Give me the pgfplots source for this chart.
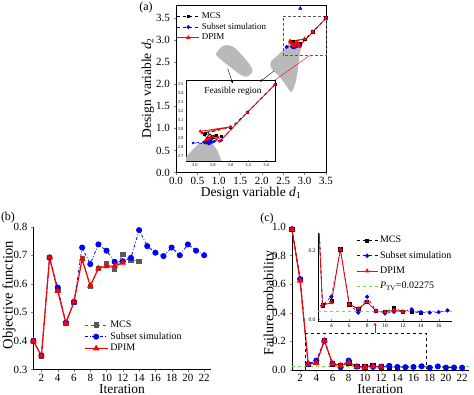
\documentclass[border=0pt]{standalone}
\usepackage{pgfplots}
\pgfplotsset{compat=1.18}
\usepackage{fontspec}
\setmainfont{Liberation Serif}
\usetikzlibrary{arrows.meta}
\definecolor{mcsgray}{RGB}{90,90,90}
\definecolor{ptvgreen}{RGB}{110,220,70}
\definecolor{blobgray}{RGB}{185,185,185}
\newcommand{\fs}[1]{\fontsize{#1}{#1}\selectfont}

\pgfplotstableread{
x y
3.5 3.5
3.19 3.19
3.0 3.02
2.72 2.96
2.9 2.92
2.7 2.95
2.78 2.9
2.84 2.93
2.75 2.88
2.8 2.92
2.74 2.9
2.79 2.91
2.76 2.89
2.77 2.9
}\aMCS
\pgfplotstableread{
x y
3.5 3.5
3.19 3.19
2.88 2.87
2.72 2.86
2.9 2.88
2.58 2.85
2.76 2.84
2.82 2.87
2.7 2.86
2.78 2.88
2.74 2.85
2.8 2.86
2.73 2.87
2.77 2.85
2.75 2.87
2.79 2.86
2.72 2.85
2.76 2.87
2.74 2.86
2.77 2.86
2.75 2.85
2.76 2.86
}\aSS
\pgfplotstableread{
x y
3.5 3.5
3.19 3.19
2.88 2.87
2.66 2.98
3.0 3.03
2.68 2.96
2.74 2.9
2.86 2.91
2.72 2.88
2.8 2.92
2.75 2.89
2.77 2.9
}\aDP

\pgfplotstableread{
x y
1 0.40
2 0.348
3 0.692
4 0.58
5 0.462
6 0.535
7 0.69
8 0.592
9 0.654
10 0.671
11 0.650
12 0.704
13 0.683
14 0.679
}\bMCS
\pgfplotstableread{
x y
1 0.40
2 0.349
3 0.692
4 0.587
5 0.464
6 0.537
7 0.727
8 0.669
9 0.738
10 0.716
11 0.677
12 0.679
13 0.691
14 0.788
15 0.732
16 0.709
17 0.697
18 0.727
19 0.700
20 0.738
21 0.716
22 0.700
}\bSS
\pgfplotstableread{
x y
1 0.40
2 0.348
3 0.692
4 0.575
5 0.463
6 0.537
7 0.686
8 0.593
9 0.654
10 0.662
11 0.662
12 0.674
}\bDP

\pgfplotstableread{
x y
1 0.985
2 0.635
3 0.041
4 0.054
5 0.205
6 0.044
7 0.031
8 0.051
9 0.024
10 0.021
11 0.034
12 0.022
13 0.021
14 0.020
}\cMCS
\pgfplotstableread{
x y
1 0.985
2 0.635
3 0.041
4 0.066
5 0.205
6 0.044
7 0.0195
8 0.066
9 0.024
10 0.017
11 0.022
12 0.022
13 0.029
14 0.021
15 0.0195
16 0.021
17 0.026
18 0.016
19 0.025
20 0.017
21 0.017
22 0.016
}\cSS
\pgfplotstableread{
x y
1 0.985
2 0.625
3 0.041
4 0.049
5 0.205
6 0.044
7 0.031
8 0.051
9 0.024
10 0.021
11 0.027
12 0.022
}\cDP

\begin{document}
\begin{tikzpicture}[x=1pt,y=1pt]
\useasboundingbox (0,0) rectangle (474,395);

% ---------------- Panel (a) ----------------
\begin{axis}[
  at={(176pt,222.5pt)}, anchor=south west,
  width=150pt, height=167.5pt, scale only axis,
  xmin=0, xmax=3.5, ymin=0, ymax=3.8,
  xtick={0,0.5,...,3.5}, ytick={0,0.5,...,3.5},
  tick align=outside, tick pos=left, major tick length=2.5pt,
  tick label style={font=\fs{11}},
  xticklabel style={yshift=1pt},
  xlabel={Design variable \textit{d}\textsubscript{1}},
  ylabel={Design variable \textit{d}\textsubscript{2}},
  every axis x label/.style={at={(axis description cs:0.5,-0.126)}, anchor=center, font=\fs{13.5}},
  every axis y label/.style={at={(axis description cs:-0.187,0.504)}, rotate=90, anchor=center, font=\fs{13.5}},
  clip=false,
  legend style={at={(0.005,0.967)}, anchor=north west, draw=none, fill=none,
    font=\fs{9}, row sep=-1pt, inner sep=0pt},
  legend cell align=left,
  legend image code/.code={\draw[mark repeat=2,mark phase=2] plot coordinates {(0pt,0pt) (11pt,0pt) (22pt,0pt)};},
  /pgf/number format/.cd, fixed, fixed zerofill, precision=1, assume math mode=true,
]
\fill[blobgray] plot[smooth cycle, tension=0.55] coordinates {(0.96,2.73) (1.12,2.88) (1.38,2.82) (1.77,2.37) (1.70,2.20) (1.52,2.21) (0.98,2.62)};
\fill[blobgray] plot[smooth cycle, tension=0.5] coordinates {(2.66,2.97) (2.93,2.94) (2.89,2.70) (2.85,2.40) (2.80,2.08) (2.70,1.83) (2.60,1.93) (2.42,2.17) (2.22,2.37) (2.22,2.52) (2.42,2.70) (2.60,2.88)};
\addplot[black, thick, dashed, mark=square*, mark size=1.4pt, mark options={solid}] table {\aMCS};
\addlegendentry{MCS}
\addplot[blue, thick, dashed, mark=*, mark size=1.5pt, mark options={solid}] table {\aSS};
\addlegendentry{Subset simulation}
\addplot[red, thick, mark=triangle*, mark size=1.8pt] table {\aDP};
\addlegendentry{DPIM}
\addplot[only marks, blue, mark=triangle*, mark size=2pt, forget plot] coordinates {(2.9,3.72)};
\draw[densely dashed, gray!70!black, thick] (axis cs:2.5,2.65) rectangle (axis cs:3.5,3.55);
\end{axis}

% inset (a)
\begin{axis}[
  at={(186pt,234pt)}, anchor=south west,
  width=89pt, height=81pt, scale only axis,
  xmin=2.5, xmax=3.5, ymin=2.65, ymax=3.55,
  xtick={2.6,2.8,...,3.41}, ytick={2.7,2.8,...,3.51},
  tick align=inside, tick pos=left, major tick length=1.2pt,
  tick label style={font=\fs{4.5}},
  xticklabel style={yshift=1pt}, yticklabel style={xshift=1pt},
  axis background/.style={fill=white},
  clip=true,
  /pgf/number format/.cd, fixed, fixed zerofill, precision=1, assume math mode=true,
]
\fill[blobgray] plot[smooth, tension=0.6] coordinates {(2.48,2.64) (2.5,2.69) (2.6,2.8) (2.68,2.86) (2.77,2.86) (2.85,2.77) (2.9,2.64)} -- cycle;
\addplot[black, semithick, dashed, mark=square*, mark size=1pt, mark options={solid}] table {\aMCS};
\addplot[blue, semithick, dashed, mark=*, mark size=1.1pt, mark options={solid}] table {\aSS};
\addplot[red, thick, mark=triangle*, mark size=1.3pt] table {\aDP};
\end{axis}

\node[font=\fs{9.3}] at (233,304) {Feasible region};
\draw[red, thin] (275,315) -- (309,339) -- (313,339);
\draw[black, -{Stealth[length=3pt,width=2.5pt]}] (227.7,326.7) -- (232.7,311.7);
\draw[black, -{Stealth[length=3pt,width=2.5pt]}] (274.3,324.3) -- (260,313.3);
\node[font=\fs{12}] at (146,387) {(a)};

% ---------------- Panel (b) ----------------
\begin{axis}[
  at={(33.3pt,25.5pt)}, anchor=south west,
  width=177.4pt, height=142.8pt, scale only axis,
  xmin=1, xmax=22.8, ymin=0.3, ymax=0.8,
  xtick={2,4,...,22}, ytick={0.3,0.4,...,0.8},
  axis x line*=bottom, axis y line*=left,
  tick align=outside, major tick length=2.5pt,
  yticklabel style={/pgf/number format/.cd, fixed, fixed zerofill, precision=1},
  tick label style={font=\fs{11}},
  xticklabel style={yshift=1.5pt},
  xlabel={Iteration}, ylabel={Objective function},
  every axis x label/.style={at={(axis description cs:0.5,-0.135)}, anchor=center, inner sep=0pt, font=\fs{13.5}},
  every axis y label/.style={at={(axis description cs:-0.137,0.52)}, rotate=90, anchor=center, font=\fs{14.5}},
  clip=false,
  legend style={at={(0.285,0.356)}, anchor=north west, draw=none, fill=none,
    font=\fs{10}, row sep=-0.5pt, inner sep=0pt},
  legend cell align=left,
  legend image code/.code={\draw[mark repeat=2,mark phase=2] plot coordinates {(0pt,0pt) (11.5pt,0pt) (23pt,0pt)};},
  /pgf/number format/assume math mode=true,
]
\addplot[mcsgray, thick, dashed, mark=square*, mark size=2.2pt, mark options={solid}] table {\bMCS};
\addlegendentry{MCS}
\addplot[blue, thick, dash dot, mark=*, mark size=2.6pt, mark options={solid}] table {\bSS};
\addlegendentry{Subset simulation}
\addplot[red, very thick, mark=triangle*, mark size=2.6pt] table {\bDP};
\addlegendentry{DPIM}
\end{axis}
\node[font=\fs{12}] at (8,177) {(b)};

% ---------------- Panel (c) ----------------
\begin{axis}[
  at={(292pt,25pt)}, anchor=south west,
  width=176.6pt, height=143pt, scale only axis,
  xmin=1, xmax=22.8, ymin=0, ymax=1,
  xtick={2,4,...,22}, ytick={0,0.2,...,1.01},
  axis x line*=bottom, axis y line*=left,
  tick align=outside, major tick length=2.5pt,
  yticklabel style={/pgf/number format/.cd, fixed, fixed zerofill, precision=1},
  tick label style={font=\fs{11}},
  xticklabel style={yshift=1.5pt},
  xlabel={Iteration}, ylabel={Failure probability},
  every axis x label/.style={at={(axis description cs:0.5,-0.132)}, anchor=center, inner sep=0pt, font=\fs{13.5}},
  every axis y label/.style={at={(axis description cs:-0.125,0.47)}, rotate=90, anchor=center, font=\fs{14}},
  clip=false,
  /pgf/number format/assume math mode=true,
]
\addplot[ptvgreen, thick, dashed, forget plot] coordinates {(1,0.02275) (22.8,0.02275)};
\addplot[black, thick, dashed, mark=square*, mark size=2.2pt, mark options={solid}] table {\cMCS};
\addplot[blue, thick, dashed, mark=*, mark size=2.6pt, mark options={solid}] table {\cSS};
\addplot[red, very thick, mark=triangle*, mark size=2.6pt] table {\cDP};
\draw[dashed, black] (axis cs:2.6,0) -- (axis cs:2.6,0.255) -- (axis cs:17.6,0.255) -- (axis cs:17.6,0.005);
\draw[red, thick, -{Stealth[length=3pt,width=3pt]}] (axis cs:11.25,0.262) -- (axis cs:11.25,0.33);
\end{axis}
\node[font=\fs{12}] at (267,176) {(c)};

% inset (c)
\begin{axis}[
  at={(318pt,74pt)}, anchor=south west,
  width=134pt, height=87.7pt, scale only axis,
  xmin=2.5, xmax=17.5, ymin=-0.005, ymax=0.252,
  xtick={4,6,...,16}, ytick={0,0.2},
  axis x line*=bottom, axis y line*=left,
  axis line style={line width=0.3pt},
  tick align=inside, major tick length=1.5pt,
  xticklabel style={yshift=1pt},
  yticklabel style={xshift=1pt, /pgf/number format/.cd, fixed, fixed zerofill, precision=1},
  tick label style={font=\fs{5.5}},
  axis background/.style={fill=white},
  clip=true,
  legend style={at={(0.284,0.99)}, anchor=north west, draw=none, fill=none,
    font=\fs{10}, row sep=3pt, inner sep=0pt},
  legend cell align=left,
  legend image code/.code={\draw[mark repeat=2,mark phase=2] plot coordinates {(0pt,0pt) (10.5pt,0pt) (21pt,0pt)};},
  /pgf/number format/assume math mode=true,
]
\addplot[black, semithick, dashed, mark=square*, mark size=1.6pt, mark options={solid}] table {\cMCS};
\addlegendentry{MCS}
\addplot[blue, semithick, dashed, mark=*, mark size=1.8pt, mark options={solid}] table {\cSS};
\addlegendentry{Subset simulation}
\addplot[red, thick, mark=triangle*, mark size=1.9pt] table {\cDP};
\addlegendentry{DPIM}
\addplot[ptvgreen, thick, dashed] coordinates {(2.5,0.02275) (17.5,0.02275)};
\addlegendentry{\textit{P}\textsubscript{TV}=0.02275}
\end{axis}

\end{tikzpicture}
\end{document}
